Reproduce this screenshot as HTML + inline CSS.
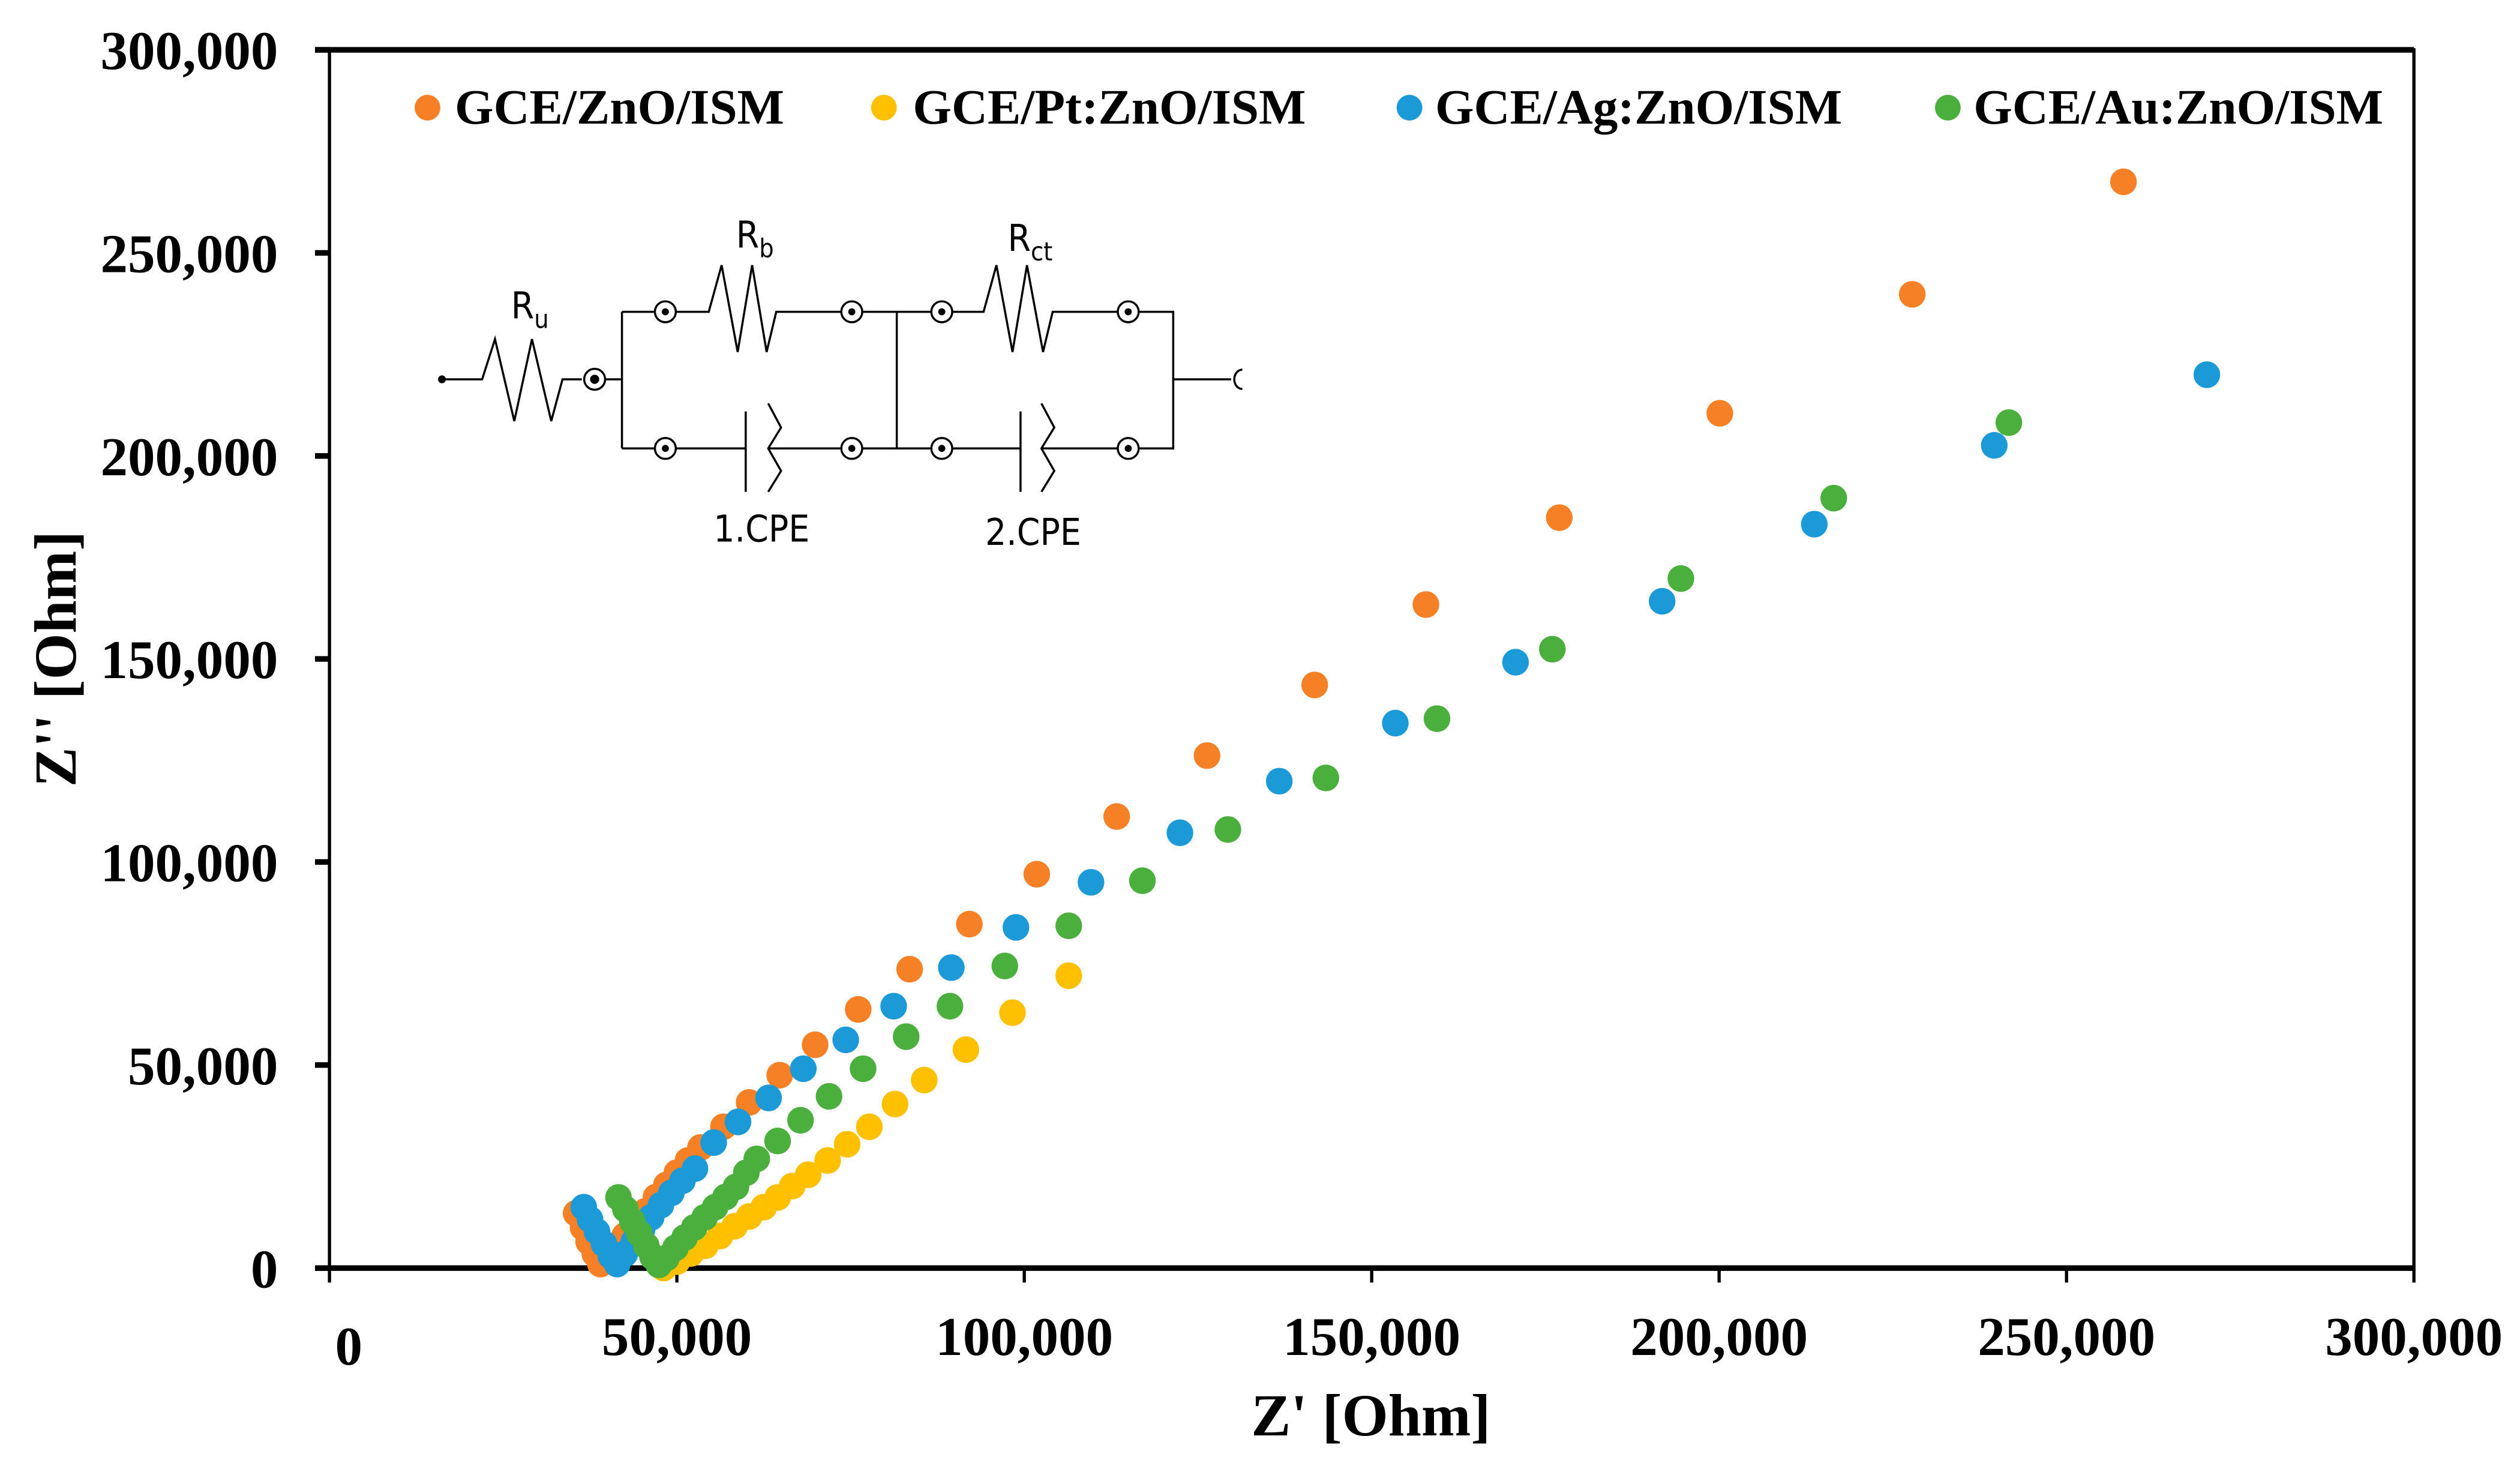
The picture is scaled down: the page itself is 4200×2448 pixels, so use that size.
<!DOCTYPE html>
<html><head><meta charset="utf-8"><style>
html,body{margin:0;padding:0;background:#fff;}
svg{display:block;}
text{font-family:"Liberation Serif",serif;font-weight:bold;fill:#000;}
.c text{font-family:"DejaVu Sans Condensed","DejaVu Sans",sans-serif;font-weight:normal;}
</style></head><body>
<svg id="chart" width="4200" height="2448" viewBox="0 0 1568 914" preserveAspectRatio="none" xmlns="http://www.w3.org/2000/svg">
<rect x="205" y="31" width="1297" height="758" fill="none" stroke="#000" stroke-width="2"/>
<line x1="196" y1="789" x2="1502" y2="789" stroke="#000" stroke-width="3.5"/>
<line x1="196" y1="31" x2="1502" y2="31" stroke="#000" stroke-width="3.5"/>
<g id="ticks"></g>
<g id="series"></g>
<text x="853" y="893" font-size="37" text-anchor="middle">Z' [Ohm]</text>
<text transform="translate(47,410) rotate(-90)" font-size="37" text-anchor="middle">Z'' [Ohm]</text>
<g font-size="31">
<g><circle cx="266" cy="67" r="8" fill="#F58025"/><text x="283" y="77">GCE/ZnO/ISM</text></g>
<g><circle cx="550" cy="67" r="8" fill="#FFC000"/><text x="568" y="77">GCE/Pt:ZnO/ISM</text></g>
<g><circle cx="877" cy="67" r="8" fill="#1B9AD7"/><text x="893" y="77">GCE/Ag:ZnO/ISM</text></g>
<g><circle cx="1212" cy="67" r="8" fill="#4AAF3C"/><text x="1228" y="77">GCE/Au:ZnO/ISM</text></g>
</g>
<g class="c" stroke="#000" stroke-width="1.3" fill="none">
<circle cx="275" cy="236" r="1.8" fill="#000"/>
<polyline points="275,236 300,236 308,211 320,262 331,211 343,262 350,236 362,236"/>
<circle cx="370" cy="236" r="6.5" fill="#fff"/><circle cx="370" cy="236" r="2.2" fill="#000"/>
<line x1="376" y1="236" x2="387" y2="236"/>
<polyline points="387,194 387,279"/>
<polyline points="387,194 408,194"/><polyline points="420,194 441,194 449,165 459,219 468,165 477,219 483,194 524,194"/>
<polyline points="536,194 558,194"/>
<polyline points="387,279 408,279"/><polyline points="420,279 464,279"/>
<line x1="464" y1="256" x2="464" y2="306"/><polyline points="478,251 486,266 478,279 486,293 478,306"/>
<polyline points="478,279 524,279"/><polyline points="536,279 558,279"/>
<line x1="558" y1="194" x2="558" y2="279"/>
<polyline points="558,194 580,194"/><polyline points="592,194 612,194 620,165 630,219 639,165 649,219 655,194 696,194"/>
<polyline points="708,194 730,194 730,279 708,279"/>
<polyline points="558,279 580,279"/><polyline points="592,279 635,279"/>
<line x1="635" y1="256" x2="635" y2="306"/><polyline points="648,251 656,266 648,279 656,293 648,306"/>
<polyline points="648,279 696,279"/>
<line x1="730" y1="236" x2="766" y2="236"/>
<path d="M773,230 A5,6 0 0 0 773,242"/>
<g fill="#fff">
<circle cx="414" cy="194" r="6.5"/><circle cx="530" cy="194" r="6.5"/><circle cx="586" cy="194" r="6.5"/><circle cx="702" cy="194" r="6.5"/>
<circle cx="414" cy="279" r="6.5"/><circle cx="530" cy="279" r="6.5"/><circle cx="586" cy="279" r="6.5"/><circle cx="702" cy="279" r="6.5"/>
</g>
<g fill="#000" stroke="none">
<circle cx="414" cy="194" r="2.2"/><circle cx="530" cy="194" r="2.2"/><circle cx="586" cy="194" r="2.2"/><circle cx="702" cy="194" r="2.2"/>
<circle cx="414" cy="279" r="2.2"/><circle cx="530" cy="279" r="2.2"/><circle cx="586" cy="279" r="2.2"/><circle cx="702" cy="279" r="2.2"/>
</g>
<g stroke="none" fill="#000" font-size="23">
<text x="318" y="198">R<tspan font-size="16" dy="6">u</tspan></text>
<text x="458" y="154">R<tspan font-size="16" dy="6">b</tspan></text>
<text x="627" y="156">R<tspan font-size="16" dy="6">ct</tspan></text>
<text x="444" y="337">1.CPE</text>
<text x="613" y="339">2.CPE</text>
</g>
</g>
</svg>
<script>
const xTicks=[0,50000,100000,150000,200000,250000,300000];
const yTicks=[0,50000,100000,150000,200000,250000,300000];
const xTickLabels=["0","50,000","100,000","150,000","200,000","250,000","300,000"];
const yTickLabels=["0","50,000","100,000","150,000","200,000","250,000","300,000"];
const seriesNames=["GCE/ZnO/ISM","GCE/Pt:ZnO/ISM","GCE/Ag:ZnO/ISM","GCE/Au:ZnO/ISM"];
const seriesColors=["#F58025","#FFC000","#1B9AD7","#4AAF3C"];
const znoX=[35500,36500,37300,38200,39000,40000,41200,42500,44000,45500,47000,48500,50000,51600,53400,56700,60400,64800,69900,76100,83500,92100,101800,113300,126300,141800,157800,177000,200100,227800,258200];
const znoY=[13500,10000,6500,3500,1000,2000,5000,8000,11000,14000,17500,20500,23500,26500,29700,34800,40800,47500,55000,63700,73600,84700,97000,111200,126200,143600,163400,184800,210500,239800,267500];
const ptX=[48100,50000,52000,54100,56200,58300,60400,62500,64500,66600,68900,71700,74500,77700,81400,85600,91600,98300,106400];
const ptY=[0,1600,3600,5500,7900,10300,12700,15000,17400,20200,23000,26500,30500,34800,40400,46300,53800,62900,72000];
const agX=[36600,37500,38500,39500,40500,41400,42500,43800,45000,46300,47700,49200,50800,52600,55300,58800,63200,68200,74300,81200,89500,98800,109600,122400,136700,153400,170700,191800,213700,239600,270200];
const agY=[15000,12000,9000,6000,3000,1000,3500,6500,9500,12500,15500,18500,21500,24500,30900,36000,41900,49100,56200,64500,74000,83900,95000,107200,119900,134200,149200,164200,183200,202600,220000];
const auX=[41600,42600,43600,44600,45600,46500,47400,48500,49800,51100,52500,54000,55500,57000,58500,60000,61500,64500,67800,71900,76800,83000,89300,97200,106400,117000,129300,143400,159400,176000,194500,216500,241700];
const auY=[17400,14500,11500,8500,5500,2800,800,2500,5000,7500,10000,12500,15000,17500,20000,23500,26900,31300,36400,42300,49100,57000,64500,74400,84300,95400,108000,120700,135300,152400,169800,189600,208200];
const NS="http://www.w3.org/2000/svg";
function sx(v){return 205+v/300000*1297;}
function sy(v){return 789-v/300000*758;}
const tg=document.getElementById('ticks');
xTicks.forEach((t,i)=>{
  const l=document.createElementNS(NS,'line');
  
  
  l.setAttribute('x1',sx(t));l.setAttribute('x2',sx(t));l.setAttribute('y1',789);l.setAttribute('y2',798);
  l.setAttribute('stroke','#000');l.setAttribute('stroke-width','2');tg.appendChild(l);
  const tx=document.createElementNS(NS,'text');
  
  
  tx.setAttribute('x',i===0?sx(t)+12:sx(t));tx.setAttribute('y',i===0?849:843);
  tx.setAttribute('font-size','34');tx.setAttribute('text-anchor','middle');
  tx.textContent=xTickLabels[i];tg.appendChild(tx);
});
yTicks.forEach((t,i)=>{
  const l=document.createElementNS(NS,'line');
  
  
  l.setAttribute('x1',196);l.setAttribute('x2',205);l.setAttribute('y1',sy(t));l.setAttribute('y2',sy(t));
  l.setAttribute('stroke','#000');l.setAttribute('stroke-width','3.5');tg.appendChild(l);
  const tx=document.createElementNS(NS,'text');
  
  
  tx.setAttribute('x',173);tx.setAttribute('y',sy(t)+12);
  tx.setAttribute('font-size','34');tx.setAttribute('text-anchor','end');
  tx.textContent=yTickLabels[i];tg.appendChild(tx);
});
const sg=document.getElementById('series');
const allX=[znoX,ptX,agX,auX],allY=[znoY,ptY,agY,auY];
const order=[0,1,2,3];
order.forEach(k=>{
  const g=document.createElementNS(NS,'g');
  
  
  allX[k].forEach((xv,j)=>{
    const c=document.createElementNS(NS,'circle');
    
    
    c.setAttribute('cx',sx(xv));c.setAttribute('cy',sy(allY[k][j]));c.setAttribute('r','8.3');
    c.setAttribute('fill',seriesColors[k]);g.appendChild(c);
  });
  sg.appendChild(g);
});
</script>
</body></html>
